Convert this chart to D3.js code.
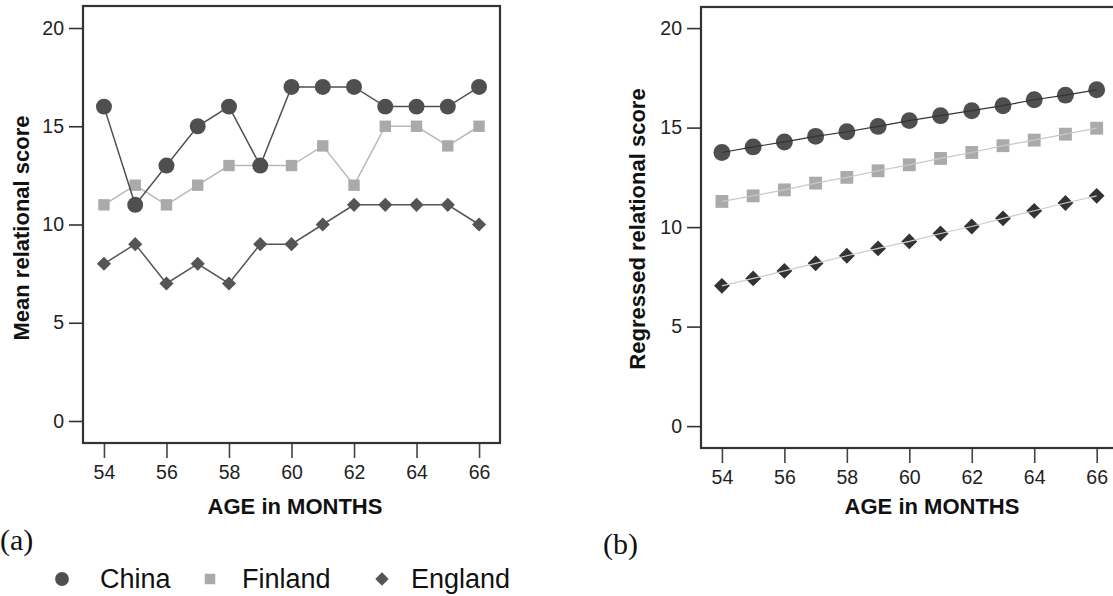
<!DOCTYPE html>
<html>
<head>
<meta charset="utf-8">
<script src="https://cdn.jsdelivr.net/npm/d3@7"></script>
<style>
  html, body { margin: 0; padding: 0; background: #fff; }
  svg { display: block; font-family: "Liberation Sans", Arial, sans-serif; }
</style>
</head>
<body>
<svg id="chart" width="1113" height="596"></svg>
<script>
// ========================================
// DATA
// ========================================
const ages = [54, 55, 56, 57, 58, 59, 60, 61, 62, 63, 64, 65, 66];
const xTicks = [54, 56, 58, 60, 62, 64, 66];
const yTicks = [0, 5, 10, 15, 20];
const countries = ['China', 'Finland', 'England'];

// (a) mean relational score
const chinaMean   = [16, 11, 13, 15, 16, 13, 17, 17, 17, 16, 16, 16, 17];
const finlandMean = [11, 12, 11, 12, 13, 13, 13, 14, 12, 15, 15, 14, 15];
const englandMean = [8, 9, 7, 8, 7, 9, 9, 10, 11, 11, 11, 11, 10];

// (b) regressed relational score
const chinaReg   = [13.75, 14.03, 14.28, 14.56, 14.79, 15.06, 15.35, 15.6, 15.85, 16.1, 16.4, 16.63, 16.9];
const finlandReg = [11.29, 11.57, 11.87, 12.21, 12.5, 12.83, 13.13, 13.45, 13.75, 14.09, 14.37, 14.67, 14.97];
const englandReg = [7.05, 7.42, 7.8, 8.18, 8.56, 8.93, 9.28, 9.68, 10.03, 10.44, 10.82, 11.21, 11.57];

const svg = d3.select('#chart');

// marker path for a series (circle / square / diamond = rotated square)
function markerPath(kind, size) {
    if (kind === 'circle') return d3.symbol(d3.symbolCircle, size)();
    return d3.symbol(d3.symbolSquare, size)();
}

function drawPanel(cfg) {
    const x = d3.scaleLinear().domain([53.33, 66.67]).range([cfg.left, cfg.right]);
    const y = d3.scaleLinear().domain([cfg.yMin, cfg.yMax]).range([cfg.bottom, cfg.top]);
    const g = svg.append('g');

    // y axis ticks
    const yAxis = g.append('g')
        .attr('transform', `translate(${cfg.left},0)`)
        .call(d3.axisLeft(y).tickValues(yTicks).tickSize(14).tickPadding(5));
    yAxis.select('.domain').remove();
    yAxis.selectAll('line').attr('stroke', '#333').attr('stroke-width', 1.6);
    yAxis.selectAll('text').attr('font-size', '19.5px').attr('fill', '#222')
        .attr('font-family', '"Liberation Sans", Arial, sans-serif');

    // x axis ticks
    const xAxis = g.append('g')
        .attr('transform', `translate(0,${cfg.bottom})`)
        .call(d3.axisBottom(x).tickValues(xTicks).tickSize(15).tickPadding(7));
    xAxis.select('.domain').remove();
    xAxis.selectAll('line').attr('stroke', '#444').attr('stroke-width', 1.6);
    xAxis.selectAll('text').attr('font-size', '19.5px').attr('fill', '#222')
        .attr('font-family', '"Liberation Sans", Arial, sans-serif');

    // frame
    g.append('rect')
        .attr('x', cfg.left).attr('y', cfg.top)
        .attr('width', cfg.right - cfg.left).attr('height', cfg.bottom - cfg.top)
        .attr('fill', 'none').attr('stroke', '#333').attr('stroke-width', 2.2);

    const line = d3.line().x((d, i) => x(ages[i])).y(d => y(d));

    cfg.series.forEach(s => {
        const drawLine = () => g.append('path')
            .datum(s.values)
            .attr('fill', 'none')
            .attr('stroke', s.lineColor)
            .attr('stroke-width', s.lineWidth)
            .attr('d', line);

        if (!cfg.lineOnTop) drawLine();

        g.selectAll(null)
            .data(s.values).enter()
            .append('path')
            .attr('d', markerPath(s.kind, s.size))
            .attr('fill', s.fill)
            .attr('transform', (d, i) =>
                `translate(${x(ages[i])},${y(d)})` + (s.kind === 'diamond' ? ' rotate(45)' : ''));

        if (cfg.lineOnTop) drawLine();
    });

    // axis titles
    g.append('text')
        .attr('x', cfg.titleX).attr('y', 514)
        .attr('text-anchor', 'middle')
        .attr('font-size', '22px').attr('font-weight', 'bold').attr('fill', '#111')
        .text('AGE in MONTHS');

    g.append('text')
        .attr('transform', `translate(${cfg.yLabelX},${cfg.yLabelY}) rotate(-90)`)
        .attr('text-anchor', 'middle')
        .attr('font-size', '22px').attr('font-weight', 'bold').attr('fill', '#111')
        .text(cfg.yLabel);

    // panel letter
    svg.append('text')
        .attr('x', cfg.letterX).attr('y', cfg.letterY)
        .attr('font-family', '"Liberation Serif", "Times New Roman", serif')
        .attr('font-size', '30px').attr('fill', '#111')
        .text(cfg.letter);
}

// (a)
drawPanel({
    left: 83, right: 500, top: 6, bottom: 443,
    yMin: -1.12, yMax: 21.12,
    titleX: 295, yLabelX: 29, yLabelY: 228,
    yLabel: 'Mean relational score',
    letter: '(a)', letterX: 0, letterY: 550,
    lineOnTop: false,
    series: [
        { values: finlandMean, kind: 'square',  size: 130, fill: '#aaaaaa', lineColor: '#b8b8b8', lineWidth: 1.5 },
        { values: chinaMean,   kind: 'circle',  size: 200, fill: '#4f4f4f', lineColor: '#505050', lineWidth: 1.5 },
        { values: englandMean, kind: 'diamond', size: 100, fill: '#555555', lineColor: '#555555', lineWidth: 1.5 }
    ]
});

// (b)
drawPanel({
    left: 701, right: 1117.6, top: 7, bottom: 448,
    yMin: -1.1, yMax: 21.06,
    titleX: 932, yLabelX: 645, yLabelY: 229,
    yLabel: 'Regressed relational score',
    letter: '(b)', letterX: 603, letterY: 554,
    lineOnTop: true,
    series: [
        { values: chinaReg,   kind: 'circle',  size: 225, fill: '#4f4f4f', lineColor: '#333333', lineWidth: 1.2 },
        { values: finlandReg, kind: 'square',  size: 165, fill: '#aaaaaa', lineColor: '#c8c8c8', lineWidth: 1.2 },
        { values: englandReg, kind: 'diamond', size: 125, fill: '#333333', lineColor: '#cccccc', lineWidth: 1.2 }
    ]
});

// legend
const legendKinds = ['circle', 'square', 'diamond'];
const legendFills = ['#4f4f4f', '#aaaaaa', '#555555'];
const legendSizes = [150, 110, 90];
const legendMarkX = [62, 210, 382];
const legendTextX = [100, 242, 411];
const legend = svg.append('g');
countries.forEach((c, i) => {
    legend.append('path')
        .attr('d', markerPath(legendKinds[i], legendSizes[i]))
        .attr('fill', legendFills[i])
        .attr('transform', `translate(${legendMarkX[i]},579)` + (legendKinds[i] === 'diamond' ? ' rotate(45)' : ''));
    legend.append('text')
        .attr('x', legendTextX[i]).attr('y', 588)
        .attr('font-size', '27px').attr('fill', '#111')
        .text(c);
});
</script>
</body>
</html>
